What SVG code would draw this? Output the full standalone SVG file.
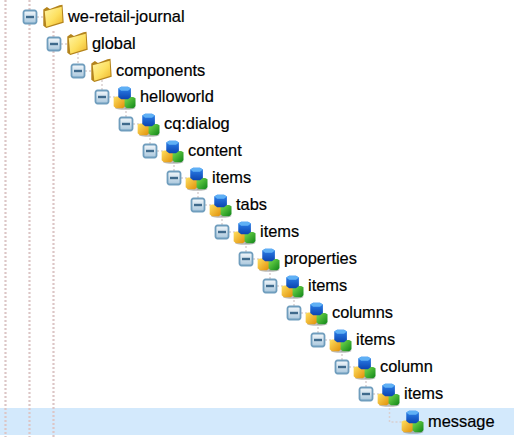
<svg xmlns="http://www.w3.org/2000/svg" width="514" height="437" viewBox="0 0 514 437">
<style>
text{font-family:"Liberation Sans",Arial,sans-serif;font-size:16.4px;fill:#000;stroke:#000;stroke-width:.2}
.d{stroke:#dcc6c6;stroke-width:2.200;stroke-dasharray:2 2;fill:none}
.d2{stroke:#d9d0d0;stroke-width:1.500;stroke-dasharray:2 2;fill:none}
</style>
<defs>
<linearGradient id="bx" x1="0" y1="0" x2="0" y2="1"><stop offset="0" stop-color="#f4f8fb"/><stop offset="1" stop-color="#a8c6dc"/></linearGradient>
<linearGradient id="fo" x1="0" y1="0" x2="1" y2="1"><stop offset="0" stop-color="#fff6a8"/><stop offset=".55" stop-color="#fde060"/><stop offset="1" stop-color="#eeb52a"/></linearGradient>
<linearGradient id="bl" x1="0" y1="0" x2="0" y2="1"><stop offset="0" stop-color="#2f86ee"/><stop offset="1" stop-color="#0c44b0"/></linearGradient>
<linearGradient id="gr" x1="0" y1="0" x2="1" y2="1"><stop offset="0" stop-color="#7be050"/><stop offset="1" stop-color="#0e8418"/></linearGradient>
<linearGradient id="ye" x1="0" y1="0" x2="1" y2="1"><stop offset="0" stop-color="#ffe060"/><stop offset="1" stop-color="#e08e08"/></linearGradient>
<g id="minus">
<rect x="-6.500" y="-6.500" width="13" height="13" rx="2" fill="url(#bx)" stroke="#6f9dbd" stroke-width="1.800"/>
<rect x="-4" y="-1.200" width="8" height="2.400" fill="#3f6a8c"/>
</g>
<g id="folder" transform="scale(1.2)">
<path d="M-8.500 -5 L-5.500 -7 L-3 -5.500 L5 -8.500 L7.500 -9 L8.500 6 L-6 10.500 L-8.500 8.500 Z" fill="#b4841c"/>
<path d="M-7.300 -3.500 L6.800 -7.300 L7.500 5.300 L-6 9.300 Z" fill="url(#fo)"/>
</g>
<g id="cubes" transform="scale(1.15)">
<ellipse cx="1" cy="9.300" rx="9" ry="1.800" fill="#777" opacity=".5"/>
<path d="M-9 0.500 L-7 -0.500 L-1 -0.500 L1 1 L1 8 L-1 9.800 L-7 9.800 L-9 8 Z" fill="url(#ye)"/>
<path d="M0.500 1 L2.500 0 L8 0 L10 1 L10 8 L8 9.800 L2.500 9.800 L0.500 8 Z" fill="url(#gr)"/>
<path d="M-5 -7.500 L-2.500 -9 L3.500 -9 L6 -7.500 L6 0 L3.500 2 L-2.500 2 L-5 0 Z" fill="url(#bl)"/>
<path d="M-5 -7.500 L-2.500 -9 L3.500 -9 L6 -7.500 L3.500 -5.500 L-2.500 -5.500 Z" fill="#5fb0f5"/>
</g>
</defs>
<rect id="selection-row" x="0" y="408" width="514" height="27" fill="#d3e9fc"/>
<g id="connectors">
<path class="d" d="M5.500 0V437M29.500 0V437M53.500 31V437"/>
<path class="d2" d="M78 53V64M102 80V91M126 107V118M150 134V145M174 161V172M198 188V199M222 215V226M246 242V253M270 269V280M294 296V307M318 323V334M342 350V361M366 377V388M389.500 408V422H402"/>
<path class="d2" d="M37 17H43M61 44H67M85 71H91M109 97H115M133 124H139M157 151H163M181 178H187M205 205H211M229 232H235M253 259H259M277 286H283M301 313H307M325 340H331M349 367H355M373 394H379"/>
</g>
<g id="n1"><use href="#minus" x="30" y="17"/><use href="#folder" x="53.500" y="15.500"/><text x="68" y="22">we-retail-journal</text></g>
<g id="n2"><use href="#minus" x="54" y="44"/><use href="#folder" x="77.500" y="42.500"/><text x="92" y="49">global</text></g>
<g id="n3"><use href="#minus" x="78" y="71"/><use href="#folder" x="101.500" y="69.500"/><text x="116" y="76">components</text></g>
<g id="n4"><use href="#minus" x="102" y="97"/><use href="#cubes" x="124" y="97"/><text x="140" y="102">helloworld</text></g>
<g id="n5"><use href="#minus" x="126" y="124"/><use href="#cubes" x="148" y="124"/><text x="164" y="129">cq:dialog</text></g>
<g id="n6"><use href="#minus" x="150" y="151"/><use href="#cubes" x="172" y="151"/><text x="188" y="156">content</text></g>
<g id="n7"><use href="#minus" x="174" y="178"/><use href="#cubes" x="196" y="178"/><text x="212" y="183">items</text></g>
<g id="n8"><use href="#minus" x="198" y="205"/><use href="#cubes" x="220" y="205"/><text x="236" y="210">tabs</text></g>
<g id="n9"><use href="#minus" x="222" y="232"/><use href="#cubes" x="244" y="232"/><text x="260" y="237">items</text></g>
<g id="n10"><use href="#minus" x="246" y="259"/><use href="#cubes" x="268" y="259"/><text x="284" y="264">properties</text></g>
<g id="n11"><use href="#minus" x="270" y="286"/><use href="#cubes" x="292" y="286"/><text x="308" y="291">items</text></g>
<g id="n12"><use href="#minus" x="294" y="313"/><use href="#cubes" x="316" y="313"/><text x="332" y="318">columns</text></g>
<g id="n13"><use href="#minus" x="318" y="340"/><use href="#cubes" x="340" y="340"/><text x="356" y="345">items</text></g>
<g id="n14"><use href="#minus" x="342" y="367"/><use href="#cubes" x="364" y="367"/><text x="380" y="372">column</text></g>
<g id="n15"><use href="#minus" x="366" y="394"/><use href="#cubes" x="388" y="394"/><text x="404" y="399">items</text></g>
<g id="n16"><use href="#cubes" x="412" y="421"/><text x="428" y="427">message</text></g>
</svg>
